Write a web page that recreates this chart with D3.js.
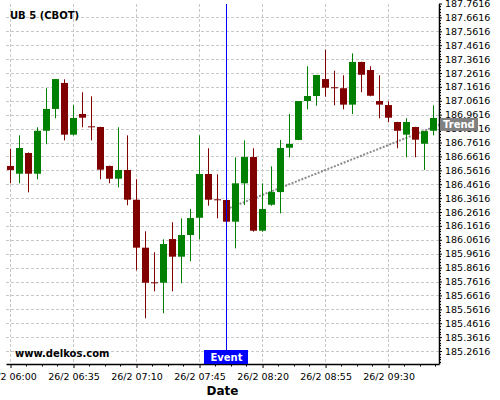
<!DOCTYPE html>
<html lang="en">
<head>
<meta charset="UTF-8">
<title>UB 5 (CBOT)</title>
<style>
    body { margin:0; background:#fff; }
    svg { display:block; font-family:"DejaVu Sans", sans-serif; }
    .grid line { stroke:#c8c8c8; stroke-dasharray:3,2; shape-rendering:crispEdges; }
    .axis .domain { stroke:#000; stroke-width:1.5; }
    .axis line { stroke:#000; }
    .event { stroke:#0000ff; stroke-width:1; shape-rendering:crispEdges; }
</style>
</head>
<body>
<svg width="500" height="400"></svg>
<script src="https://d3js.org/d3.v7.min.js"></script>
<script>
// candle times (5 min bars)
var times = ["06:00","06:05","06:10","06:15","06:20","06:25","06:30","06:35","06:40","06:45","06:50","06:55",
             "07:00","07:05","07:10","07:15","07:20","07:25","07:30","07:35","07:40","07:45","07:50","07:55",
             "08:00","08:05","08:10","08:15","08:20","08:25","08:30","08:35","08:40","08:45","08:50","08:55",
             "09:00","09:05","09:10","09:15","09:20","09:25","09:30","09:35","09:40","09:45","09:50","09:55"];
var opens  = [186.593,186.537,186.686,186.537,186.846,187.003,187.190,186.818,186.967,186.878,186.873,186.593,
              186.501,186.564,186.350,186.005,185.756,185.753,186.067,185.940,186.096,186.220,186.535,186.353,
              186.348,186.192,186.468,186.657,186.127,186.314,186.405,186.724,186.780,187.060,187.096,187.218,
              187.159,187.152,187.034,187.341,187.283,187.060,187.031,186.909,186.818,186.873,186.753,186.846];
var highs  = [186.717,186.813,186.690,186.871,187.152,187.218,187.216,187.031,187.123,187.094,186.875,186.595,
              186.871,186.813,186.497,186.123,185.972,186.065,186.188,186.216,186.283,186.813,186.720,186.533,
              186.350,186.655,186.777,186.720,186.468,186.590,186.780,186.967,187.060,187.310,187.247,187.429,
              187.278,187.245,187.403,187.343,187.310,187.245,187.058,186.911,186.936,186.875,186.844,187.029];
var lows   = [186.468,186.468,186.403,186.497,186.749,186.936,186.777,186.811,186.871,186.777,186.497,186.468,
              186.439,186.310,185.842,185.497,185.691,185.533,185.691,185.749,185.907,186.065,186.307,186.216,
              186.190,186.000,186.312,186.120,186.120,186.307,186.252,186.655,186.778,187.000,187.026,187.091,
              187.029,187.000,186.967,187.123,187.094,186.936,186.907,186.720,186.655,186.655,186.564,186.813];
var closes = [186.564,186.722,186.537,186.846,187.003,187.218,186.818,186.938,186.940,186.876,186.566,186.501,
              186.564,186.350,186.005,185.753,185.754,186.031,185.940,186.096,186.218,186.535,186.350,186.351,
              186.192,186.468,186.657,186.127,186.283,186.405,186.722,186.751,187.060,187.096,187.247,187.156,
              187.157,187.034,187.341,187.249,187.098,187.034,186.940,186.846,186.909,186.782,186.844,186.938];

var xTickTimes = ["06:00","06:35","07:10","07:45","08:20","08:55","09:30"];
var yTickValues = [185.2616,185.3616,185.4616,185.5616,185.6616,185.7616,185.8616,185.9616,186.0616,186.1616,
                   186.2616,186.3616,186.4616,186.5616,186.6616,186.7616,186.8616,186.9616,187.0616,187.1616,
                   187.2616,187.3616,187.4616,187.5616,187.6616,187.7616];

var eventTime = "08:00";
var trendTimes = ["08:00", "09:58"];
var trendValues = [186.282, 186.888];

var svg = d3.select("svg"),
    plotLeft = 6, plotRight = 439, plotTop = 3.5, plotBottom = 364;

function parseT(s) {
    var p = s.split(":");
    return new Date(2024, 1, 26, +p[0], +p[1], +(p[2] || 0));
}

var x = d3.scaleTime()
    .domain([parseT("05:57:30"), parseT("09:58")])
    .range([plotLeft, plotRight]);

var y = d3.scaleLinear()
    .domain([185.1681, 187.7616])
    .range([plotBottom, plotTop]);

function px(t) { return Math.floor(x(t)) + 0.5; }

// gridlines
var grid = svg.append("g").attr("class", "grid");
grid.selectAll(".h")
    .data(yTickValues.slice(0, -1))
    .enter().append("line")
    .attr("x1", plotLeft).attr("x2", plotRight)
    .attr("y1", function(d){ return Math.round(y(d)) + 0.5; })
    .attr("y2", function(d){ return Math.round(y(d)) + 0.5; });
grid.selectAll(".v")
    .data(xTickTimes)
    .enter().append("line")
    .attr("y1", plotTop).attr("y2", plotBottom)
    .attr("x1", function(d){ return px(parseT(d)); })
    .attr("x2", function(d){ return px(parseT(d)); });

// trend line (under candles)
svg.append("line")
    .attr("x1", x(parseT(trendTimes[0]))).attr("y1", y(trendValues[0]))
    .attr("x2", x(parseT(trendTimes[1]))).attr("y2", y(trendValues[1]))
    .attr("stroke", "#8c8c8c").attr("stroke-width", 2)
    .attr("stroke-dasharray", "2,1.5");

// candles
var candles = times.map(function(t, i){
    return {t: parseT(t), o: opens[i], h: highs[i], l: lows[i], c: closes[i]};
});
var step = x(parseT("06:05")) - x(parseT("06:00"));
var bw = Math.round(step * 0.78);

var cg = svg.append("g").selectAll("g")
    .data(candles)
    .enter().append("g")
    .attr("fill", function(d){ return d.c >= d.o ? "#008000" : "#800000"; })
    .attr("stroke", function(d){ return d.c >= d.o ? "#008000" : "#800000"; });

cg.append("line")
    .attr("x1", function(d){ return px(d.t); })
    .attr("x2", function(d){ return px(d.t); })
    .attr("y1", function(d){ return y(d.h); })
    .attr("y2", function(d){ return y(d.l); })
    .attr("stroke-width", 1);

cg.append("rect")
    .attr("stroke", "none")
    .attr("x", function(d){ return px(d.t) - bw / 2; })
    .attr("width", bw)
    .attr("y", function(d){ return y(Math.max(d.o, d.c)); })
    .attr("height", function(d){ return Math.max(1, Math.abs(y(d.o) - y(d.c))); });

// event line
var ex = px(parseT(eventTime));
svg.append("line")
    .attr("class", "event")
    .attr("x1", ex).attr("x2", ex)
    .attr("y1", plotTop).attr("y2", plotBottom)
    .style("stroke", "#0000ff");

// axes
var fmt = d3.timeFormat("%H:%M");
var xAxis = svg.append("g")
    .attr("class", "axis")
    .attr("transform", "translate(0," + plotBottom + ")")
    .call(d3.axisBottom(x)
        .tickValues(xTickTimes.map(parseT))
        .tickFormat(function(d){ return "26/2 " + fmt(d); })
        .tickSize(4).tickSizeOuter(0).tickPadding(5));
xAxis.selectAll("text").attr("font-size", 9.5).attr("fill", "#000").attr("font-family", "DejaVu Sans");

// minor x ticks: 4 subdivisions between majors
var xMinor = [];
xTickTimes.forEach(function(t){
    var t0 = parseT(t).getTime();
    for (var k = 1; k < 4; k++) {
        var tm = new Date(t0 + k * 8.75 * 60000);
        if (tm <= x.domain()[1]) xMinor.push(tm);
    }
});
svg.append("g").selectAll("line")
    .data(xMinor)
    .enter().append("line")
    .attr("x1", function(d){ return px(d); })
    .attr("x2", function(d){ return px(d); })
    .attr("y1", plotBottom).attr("y2", plotBottom + 2.5)
    .attr("stroke", "#000");

var yAxis = svg.append("g")
    .attr("class", "axis")
    .attr("transform", "translate(" + plotRight + ",0)")
    .call(d3.axisRight(y)
        .tickValues(yTickValues)
        .tickFormat(d3.format(".4f"))
        .tickSize(3).tickSizeOuter(0).tickPadding(3));
yAxis.selectAll("text").attr("font-size", 9.5).attr("fill", "#000").attr("font-family", "DejaVu Sans");

var yMinor = [];
yTickValues.forEach(function(v, i){
    for (var k = 1; k < 5; k++) if (v + k * 0.02 < y.domain()[1]) yMinor.push(v + k * 0.02);
    if (i === 0) for (var k = 1; k < 5; k++) if (v - k * 0.02 > y.domain()[0]) yMinor.push(v - k * 0.02);
});
svg.append("g").selectAll("line")
    .data(yMinor)
    .enter().append("line")
    .attr("x1", plotRight).attr("x2", plotRight + 2)
    .attr("y1", function(d){ return Math.round(y(d)) + 0.5; })
    .attr("y2", function(d){ return Math.round(y(d)) + 0.5; })
    .attr("stroke", "#000");

// event label
svg.append("rect")
    .attr("x", ex - 22.5).attr("y", plotBottom - 14)
    .attr("width", 44).attr("height", 14)
    .attr("fill", "#0000ff");
svg.append("text")
    .attr("x", ex).attr("y", plotBottom - 3)
    .attr("text-anchor", "middle")
    .attr("font-size", 10).attr("font-weight", "bold")
    .attr("fill", "#fff")
    .text("Event");

// trend label
var ty = y(trendValues[1]);
svg.append("rect")
    .attr("x", plotRight + 1).attr("y", ty - 7)
    .attr("width", 38).attr("height", 13)
    .attr("fill", "#808080");
svg.append("text")
    .attr("x", plotRight + 4).attr("y", ty + 3.5)
    .attr("font-size", 10).attr("font-weight", "bold")
    .attr("fill", "#fff")
    .text("Trend");

// title, watermark, axis title
svg.append("text")
    .attr("x", 10).attr("y", 19)
    .attr("font-size", 10).attr("font-weight", "bold")
    .text("UB 5 (CBOT)");

svg.append("text")
    .attr("x", 15).attr("y", 357)
    .attr("font-size", 10).attr("font-weight", "bold")
    .text("www.delkos.com");

svg.append("text")
    .attr("x", (plotLeft + plotRight) / 2).attr("y", 395)
    .attr("text-anchor", "middle")
    .attr("font-size", 12).attr("font-weight", "bold")
    .text("Date");
</script>
</body>
</html>
